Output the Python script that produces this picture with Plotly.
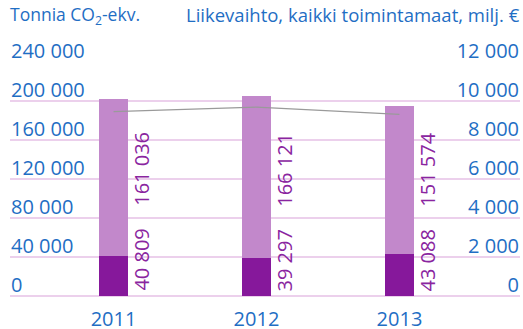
import plotly.graph_objects as go

years = ["2011", "2012", "2013"]
emissions_direct = [40809, 39297, 43088]      # lower segment, t CO2-eq
emissions_other = [161036, 166121, 151574]    # upper segment, t CO2-eq
turnover = [9460, 9686, 9315]                 # milj. €

left_ticks = [0, 40000, 80000, 120000, 160000, 200000, 240000]
right_ticks = [0, 2000, 4000, 6000, 8000, 10000, 12000]

def fmt(v):
    return f"{v:,}".replace(",", " ")

BLUE = "#1f6ec4"
DARK = "#86189b"
LIGHT = "#c288cb"
LABEL = "#8a25a0"
GRID = "#ecd0ec"
FONT = "Open Sans"

fig = go.Figure()
fig.add_trace(go.Bar(x=years, y=emissions_direct, marker_color=DARK,
                     marker_line_width=0, width=0.2, yaxis="y"))
fig.add_trace(go.Bar(x=years, y=emissions_other, marker_color=LIGHT,
                     marker_line_width=0, width=0.2, yaxis="y"))
fig.add_trace(go.Scatter(x=years, y=turnover, mode="lines",
                         line=dict(color="#9a9a9a", width=1.2), yaxis="y2"))

# rotated value labels beside each bar (category index positions)
for i, (lo, hi) in enumerate(zip(emissions_direct, emissions_other)):
    fig.add_annotation(x=i, y=0, text=fmt(lo), textangle=-90, showarrow=False,
                       xref="x", yref="y", xanchor="center", yanchor="bottom",
                       xshift=28, yshift=3, font=dict(family=FONT, size=20, color=LABEL))
    fig.add_annotation(x=i, y=170000, text=fmt(hi), textangle=-90, showarrow=False,
                       xref="x", yref="y", xanchor="center", yanchor="top",
                       xshift=28, yshift=0, font=dict(family=FONT, size=20, color=LABEL))

fig.add_annotation(x=0, y=1, xref="paper", yref="paper", yshift=62,
                   text="Tonnia CO<sub>2</sub>-ekv.", showarrow=False,
                   xanchor="left", yanchor="top", xshift=-2,
                   font=dict(family=FONT, size=17.5, color=BLUE))
fig.add_annotation(x=1, y=1, xref="paper", yref="paper", yshift=62,
                   text="Liikevaihto, kaikki toimintamaat, milj. €", showarrow=False,
                   xanchor="right", yanchor="top", xshift=2,
                   font=dict(family=FONT, size=18.5, color=BLUE))

fig.update_layout(
    width=523, height=329,
    margin=dict(l=10, r=3, t=62, b=31),
    paper_bgcolor="white", plot_bgcolor="white",
    barmode="stack", showlegend=False,
    font=dict(family=FONT, color=BLUE),
    xaxis=dict(type="category", range=[-0.724, 2.843], showgrid=False,
               showline=False, zeroline=False, ticks="", automargin=False,
               tickfont=dict(size=20, color=BLUE), ticklabelstandoff=7),
    yaxis=dict(range=[-2000, 240000], tickvals=left_ticks,
               ticktext=[fmt(v) for v in left_ticks],
               ticklabelposition="inside top", ticklabeloverflow="allow",
               ticklabelshift=3, ticklabelstandoff=-2, automargin=False,
               showgrid=True, gridcolor=GRID, gridwidth=2,
               zeroline=False, showline=False,
               tickfont=dict(size=20, color=BLUE)),
    yaxis2=dict(range=[-100, 12000], tickvals=right_ticks,
                ticktext=[fmt(v) for v in right_ticks],
                overlaying="y", side="right", anchor="x",
                ticklabelposition="inside top", ticklabeloverflow="allow",
                ticklabelshift=3, ticklabelstandoff=-2, automargin=False,
                showgrid=False, zeroline=False, showline=False,
                tickfont=dict(size=20, color=BLUE)),
)

fig.write_html("out.html")
